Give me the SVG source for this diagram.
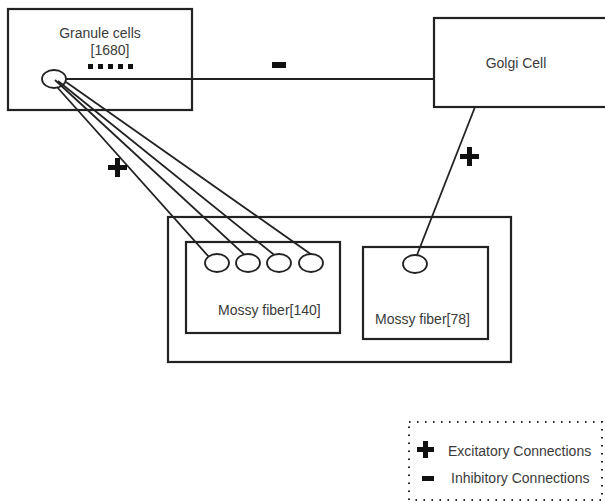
<svg xmlns="http://www.w3.org/2000/svg" width="605" height="503" viewBox="0 0 605 503">
<style>
.box{fill:none;stroke:#222;stroke-width:2.2}
.ell{fill:#fff;stroke:#222;stroke-width:1.8}
.ln{fill:none;stroke:#222;stroke-width:1.8}
.t{font-family:"Liberation Sans",Arial,sans-serif;font-size:14px;fill:#3a3a3a}
.sym{fill:#111}
</style>
<rect width="605" height="503" fill="#fff"/>
<g id="connectors">
<line class="ln" x1="66" y1="79" x2="434" y2="79"/>
<line class="ln" x1="57" y1="87" x2="209" y2="257"/>
<line class="ln" x1="55" y1="80" x2="248" y2="258"/>
<line class="ln" x1="58" y1="81" x2="278" y2="258"/>
<line class="ln" x1="66" y1="82" x2="312" y2="255"/>
<line class="ln" x1="475" y1="107" x2="417" y2="255"/>
<rect class="sym" x="272" y="62" width="14" height="6"/>
<path class="sym" d="M115,158h5v7h7v5h-7v7h-5v-7h-7v-5h7z"/>
<path class="sym" d="M467,147h5v7h7v5h-7v7h-5v-7h-7v-5h7z"/>
</g>
<g id="granule">
<rect class="box" x="8" y="9" width="184" height="101"/>
<text class="t" x="100" y="38" text-anchor="middle">Granule cells</text>
<text class="t" x="110" y="55" text-anchor="middle">[1680]</text>
<g class="sym">
<rect x="88" y="64" width="5" height="5"/><rect x="98" y="64" width="5" height="5"/><rect x="108" y="64" width="5" height="5"/><rect x="118" y="64" width="5" height="5"/><rect x="128" y="64" width="5" height="5"/>
</g>
<ellipse cx="54" cy="79" rx="12" ry="9" fill="none" stroke="#222" stroke-width="1.8"/>
</g>
<g id="golgi">
<rect class="box" x="434" y="18" width="180" height="89"/>
<text class="t" x="516" y="68" text-anchor="middle">Golgi Cell</text>
</g>
<g id="mossy-group">
<rect class="box" x="168" y="217" width="343" height="145"/>
</g>
<g id="mossy140">
<rect class="box" x="186" y="242" width="154" height="91"/>
<ellipse class="ell" cx="217" cy="263" rx="12" ry="9"/>
<ellipse class="ell" cx="248" cy="263" rx="12" ry="9"/>
<ellipse class="ell" cx="279" cy="263" rx="12" ry="9"/>
<ellipse class="ell" cx="311" cy="263" rx="12" ry="9"/>
<text class="t" x="218" y="315">Mossy fiber[140]</text>
</g>
<g id="mossy78">
<rect class="box" x="363" y="247" width="125" height="92"/>
<ellipse class="ell" cx="415" cy="264" rx="12" ry="9"/>
<text class="t" x="375" y="324">Mossy fiber[78]</text>
</g>
<g id="legend">
<rect x="409" y="422" width="193" height="78" fill="none" stroke="#222" stroke-width="2" stroke-dasharray="1.5 6.5"/>
<path class="sym" d="M423,441h5v6h6v5h-6v6h-5v-6h-6v-5h6z"/>
<rect class="sym" x="422" y="476" width="12" height="5"/>
<text class="t" x="448" y="456">Excitatory Connections</text>
<text class="t" x="451" y="483">Inhibitory Connections</text>
</g>
</svg>
